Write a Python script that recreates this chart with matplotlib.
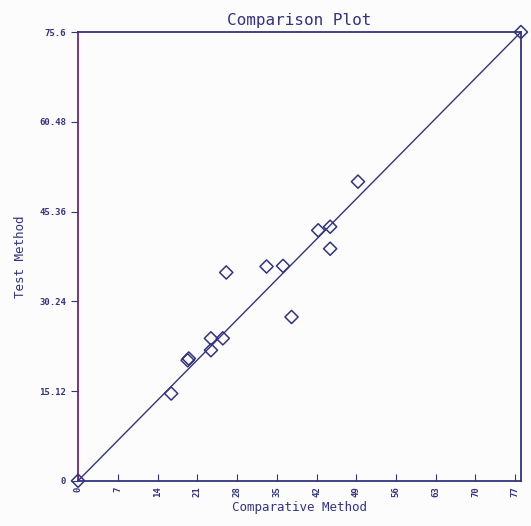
import matplotlib
matplotlib.use("Agg")
import matplotlib.pyplot as plt

# values
comparative = [0, 16.4, 19.3, 19.5, 23.4, 23.4, 25.5, 26.1, 33.2, 36.1, 37.6, 42.3, 44.4, 44.4, 49.3, 78.0]
test = [0, 14.7, 20.3, 20.6, 24.0, 22.0, 24.0, 35.1, 36.1, 36.2, 27.6, 42.2, 42.8, 39.1, 50.4, 75.6]
x_ticks = [0, 7, 14, 21, 28, 35, 42, 49, 56, 63, 70, 77]
y_ticks = [0, 15.12, 30.24, 45.36, 60.48, 75.6]
y_labels = ["0", "15.12", "30.24", "45.36", "60.48", "75.6"]

navy = "#33337f"
plt.rcParams['font.family'] = ['DejaVu Sans Mono']

fig = plt.figure(figsize=(5.31, 5.26), dpi=100)
fig.patch.set_facecolor("#fcfcfd")
ax = fig.add_axes([0.147, 0.086, 0.834, 0.853])
ax.set_facecolor("#fcfcfd")

ax.plot([0, 78], [0, 75.6], color=navy, lw=1)
ax.scatter(comparative, test, marker="D", s=45, facecolors="none", edgecolors=navy, linewidths=1.1, zorder=3, clip_on=False)

ax.set_xlim(0, 78)
ax.set_ylim(0, 75.6)
ax.set_xticks(x_ticks)
ax.set_xticklabels([str(t) for t in x_ticks], rotation=90, fontsize=6.5, fontweight="bold", color=navy)
ax.set_yticks(y_ticks)
ax.set_yticklabels(y_labels, fontsize=6.5, fontweight="bold", color=navy)
ax.tick_params(axis="x", direction="in", length=5, color=navy, pad=4)
ax.tick_params(axis="y", direction="out", length=5, color=navy)

for side in ["top", "right", "bottom"]:
    ax.spines[side].set_color(navy)
    ax.spines[side].set_linewidth(1.3)
ax.spines["left"].set_color("#6a2a6a")
ax.spines["left"].set_linewidth(1.3)

ax.set_title("Comparison Plot", fontsize=11.5, color=navy, pad=5)
ax.set_xlabel("Comparative Method", fontsize=9, color=navy, labelpad=3)
ax.set_ylabel("Test Method", fontsize=9, color=navy, labelpad=9)

fig.savefig("out.png", dpi=100, facecolor=fig.get_facecolor())
